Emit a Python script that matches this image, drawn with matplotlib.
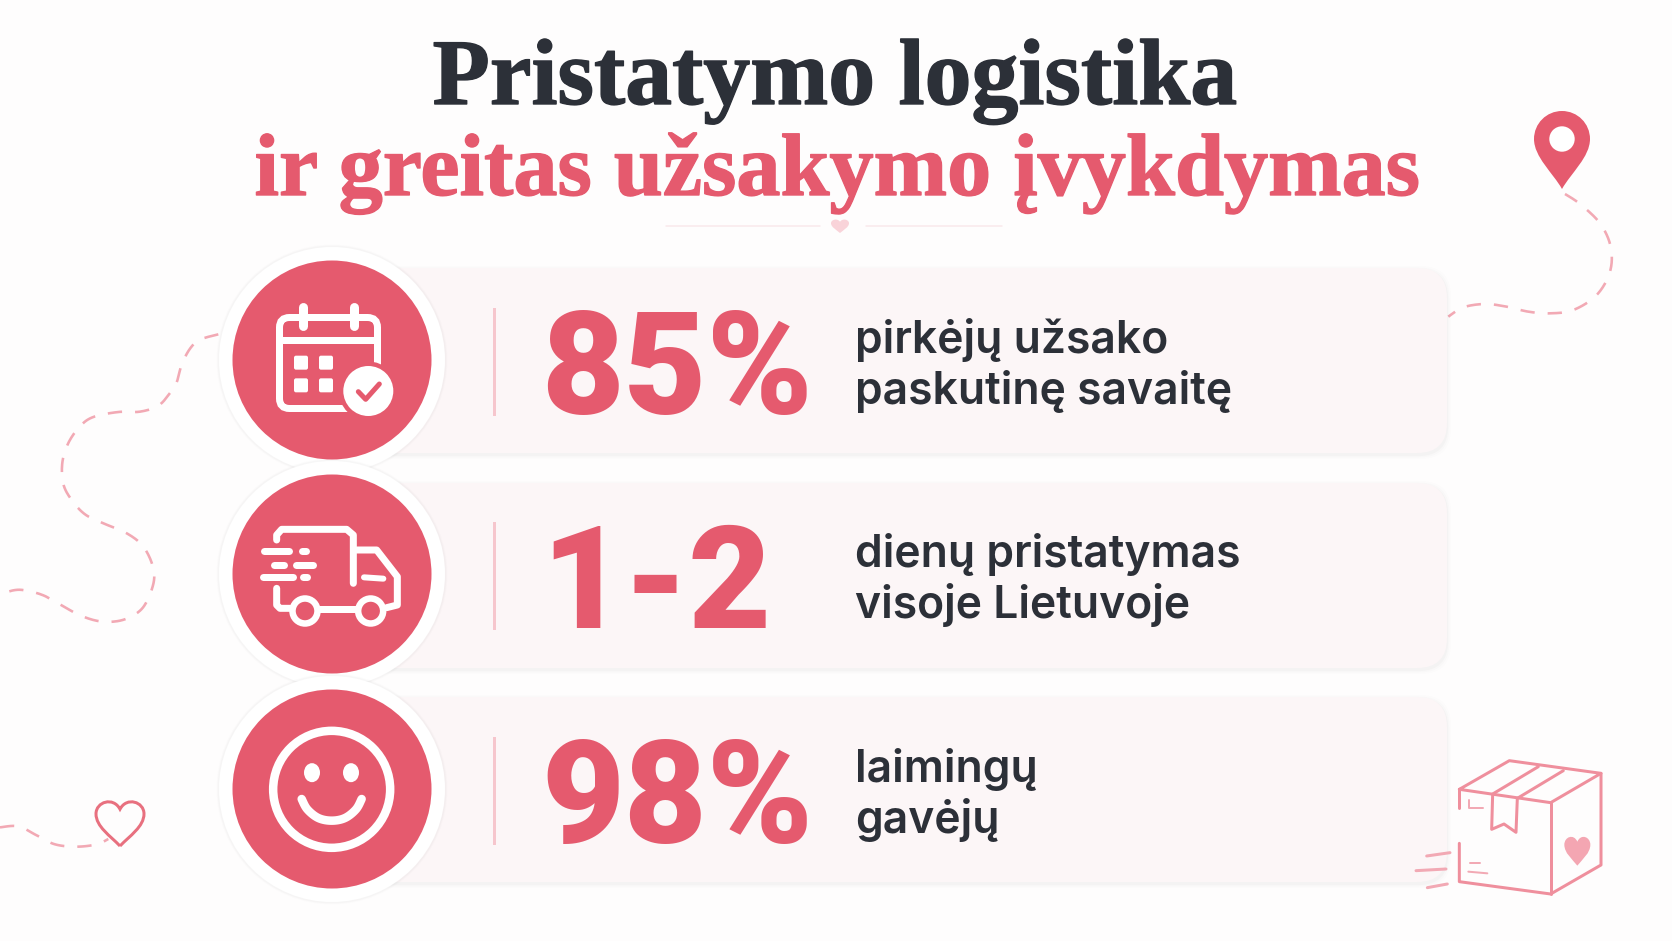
import numpy as np
import matplotlib
matplotlib.use('Agg')
from matplotlib import pyplot as plt
from matplotlib import patheffects as pe
from matplotlib.patches import Circle, Ellipse, FancyBboxPatch, PathPatch, Rectangle
from matplotlib.path import Path

W, H = 1672, 941

# chart text
title_top = 'Pristatymo logistika'
title_bottom = 'ir greitas užsakymo įvykdymas'
stats = ['85%', '1-2', '98%']
desc_first = ['pirkėjų užsako', 'dienų pristatymas', 'laimingų']
desc_second = ['paskutinę savaitę', 'visoje Lietuvoje', 'gavėjų']

# row layout, in pixels
row_centres = [360, 574, 789]
card_tops = [268, 483, 697]
card_height = 185

RED = '#e55a6e'
DARK = '#2c3038'
PINK = '#f2a9b4'
CARD = '#fcf6f7'

route_right = [(495, 312), (540, 342), (600, 400), (632, 470), (630, 545), (590, 615), (520, 660),
               (450, 670), (385, 665), (320, 650), (255, 642), (190, 652), (145, 680)]
route_left = [(655, 43), (600, 59), (570, 86), (545, 134), (530, 187), (510, 219), (475, 257),
              (420, 275), (355, 276), (280, 291), (240, 319), (205, 369), (187, 428), (190, 492),
              (215, 540), (255, 583), (310, 610), (375, 637), (425, 674), (455, 728), (462, 781),
              (440, 845), (410, 880), (360, 902), (300, 904), (240, 886), (185, 856), (130, 826),
              (75, 811), (40, 811), (0, 824)]
route_heart = [(0, 1522), (55, 1519), (110, 1546), (165, 1573), (230, 1580), (290, 1573), (325, 1557)]


def zoomed(points, x0, y0):
    # zoom crop coordinates back to image pixels
    return [(x0 + x / 3, y0 + y / 3) for x, y in points]


def lw(px):
    return px * 72 / 100


def smooth(points, n=14):
    # catmull-rom through the traced points
    p = np.array(points, dtype=float)
    p = np.vstack([p[0], p, p[-1]])
    out = []
    for i in range(1, len(p) - 2):
        for t in np.linspace(0, 1, n, endpoint=False):
            out.append(0.5 * (2 * p[i] + (p[i + 1] - p[i - 1]) * t
                              + (2 * p[i - 1] - 5 * p[i] + 4 * p[i + 1] - p[i + 2]) * t ** 2
                              + (3 * p[i] - p[i - 1] - 3 * p[i + 1] + p[i + 2]) * t ** 3))
    out.append(p[-2])
    return np.array(out)


def stroke(ax, points, color='white', width=7, z=6, cap='round', alpha=1):
    xy = np.array(points)
    ax.plot(xy[:, 0], xy[:, 1], color=color, lw=lw(width), solid_capstyle=cap,
            solid_joinstyle='round', zorder=z, alpha=alpha)


def heart_path(cx, cy, w, h):
    top = cy - h * 0.30
    verts = [(cx, cy + h / 2),
             (cx - w * 0.2, cy + h * 0.28), (cx - w / 2, cy + h * 0.08), (cx - w / 2, cy - h * 0.2),
             (cx - w / 2, cy - h * 0.46), (cx - w * 0.14, cy - h * 0.58), (cx, top),
             (cx + w * 0.14, cy - h * 0.58), (cx + w / 2, cy - h * 0.46), (cx + w / 2, cy - h * 0.2),
             (cx + w / 2, cy + h * 0.08), (cx + w * 0.2, cy + h * 0.28), (cx, cy + h / 2)]
    return Path(verts, [Path.MOVETO] + [Path.CURVE4] * 12)


def draw_calendar(ax):
    x0, y0 = 200, 240
    ax.add_patch(FancyBboxPatch((279.5, 317.5), 98, 91, boxstyle='round,pad=0,rounding_size=10',
                                fc='none', ec='white', lw=lw(7), zorder=6))
    stroke(ax, zoomed([(240, 301), (530, 301)], x0, y0), width=7)
    for x in (308, 462):
        stroke(ax, zoomed([(x, 200), (x, 258)], x0, y0), width=9)
    for x in (282, 357):
        for y in (347, 415):
            ax.add_patch(FancyBboxPatch((x0 + x / 3, y0 + y / 3), 14, 14, boxstyle='round,pad=0,rounding_size=2',
                                        fc='white', ec='none', zorder=6))
    ax.add_patch(Circle((368.3, 391), 29.5, fc=RED, ec='none', zorder=6.5))
    ax.add_patch(Circle((368.3, 391), 25, fc='white', ec='none', zorder=7))
    stroke(ax, zoomed([(475, 455), (497, 478), (538, 432)], x0, y0), color=RED, width=5, z=8)


def draw_truck(ax):
    x0, y0 = 200, 240
    stroke(ax, zoomed([(230, 900), (230, 885), (245, 868), (440, 868), (460, 885), (460, 1030)], x0, y0))
    stroke(ax, zoomed([(470, 930), (530, 930), (592, 1010), (592, 1095), (560, 1103)], x0, y0))
    stroke(ax, zoomed([(230, 1045), (230, 1095), (240, 1105), (272, 1105)], x0, y0))
    stroke(ax, zoomed([(358, 1108), (468, 1108)], x0, y0))
    for x in (315, 512):
        cx, cy = x0 + x / 3, y0 + 1113 / 3
        ax.add_patch(Circle((cx, cy), 12.5, fc='none', ec='white', lw=lw(6.5), zorder=6))
    stroke(ax, zoomed([(492, 1012), (550, 1016)], x0, y0), width=6)
    # speed lines
    stroke(ax, zoomed([(192, 933), (268, 933)], x0, y0))
    stroke(ax, zoomed([(306, 933), (318, 933)], x0, y0))
    stroke(ax, zoomed([(222, 975), (252, 975)], x0, y0))
    stroke(ax, zoomed([(288, 975), (338, 975)], x0, y0))
    stroke(ax, zoomed([(190, 1012), (278, 1012)], x0, y0))
    stroke(ax, zoomed([(310, 1012), (322, 1012)], x0, y0))


def draw_smile(ax):
    x0, y0 = 220, 680
    cx, cy = x0 + 335 / 3, y0 + 328 / 3
    ax.add_patch(Circle((cx, cy), 58.5, fc='none', ec='white', lw=lw(8.5), zorder=6))
    for x in (276, 393):
        ax.add_patch(Ellipse((x0 + x / 3, y0 + 278 / 3), 16, 19, fc='white', ec='none', zorder=6))
    mouth = [(245, 357), (262, 388), (295, 414), (335, 422), (375, 414), (408, 388), (425, 357)]
    stroke(ax, smooth(zoomed(mouth, x0, y0)), width=8.5)


def draw_pin(ax):
    cx, cy, tip = 1562, 139, 189
    r = 28
    verts = [(cx, tip), (cx - 9, tip - 16), (cx - r, cy + 18), (cx - r, cy),
             (cx - r, cy - 15.5), (cx - 15.5, cy - r), (cx, cy - r),
             (cx + 15.5, cy - r), (cx + r, cy - 15.5), (cx + r, cy),
             (cx + r, cy + 18), (cx + 9, tip - 16), (cx, tip)]
    ax.add_patch(PathPatch(Path(verts, [Path.MOVETO] + [Path.CURVE4] * 12), fc=RED, ec='none', zorder=4))
    ax.add_patch(Circle((cx, cy), 12.7, fc='white', ec='none', zorder=5))


def draw_box(ax):
    x0, y0 = 1400, 720
    c = '#ef8f9d'
    for seg in ([(178, 208), (328, 122), (603, 160), (452, 248), (178, 208)],
                [(178, 265), (178, 208)],
                [(178, 370), (178, 485), (452, 522), (603, 435), (603, 160)],
                [(452, 248), (452, 522)],
                [(415, 140), (278, 222), (275, 328), (312, 312), (348, 337), (352, 235), (490, 152)]):
        stroke(ax, zoomed(seg, x0, y0), color=c, width=3, z=4)
    for seg in ([(80, 408), (150, 398)], [(48, 452), (138, 447)], [(82, 503), (142, 492)]):
        stroke(ax, zoomed(seg, x0, y0), color=PINK, width=3, z=4)
    for seg in ([(208, 240), (208, 265), (250, 265)], [(210, 430), (240, 430)], [(205, 455), (262, 460)]):
        stroke(ax, zoomed(seg, x0, y0), color=PINK, width=2, z=4)
    ax.add_patch(PathPatch(heart_path(x0 + 532 / 3, y0 + 392 / 3, 26, 30), fc='#f4a6b2', ec='none', zorder=4))


fig = plt.figure(figsize=(W / 100, H / 100), dpi=100, facecolor='#fefdfd')
ax = fig.add_axes([0, 0, 1, 1])
ax.set_xlim(0, W)
ax.set_ylim(H, 0)
ax.axis('off')

# background routes
dash = (0, (5.5, 5))
for pts, off in ((route_right, (1400, 90)), (route_left, (0, 320)), (route_heart, (0, 320))):
    xy = smooth(zoomed(pts, *off))
    ax.plot(xy[:, 0], xy[:, 1], color=PINK, lw=lw(2.6), linestyle=dash, zorder=1)

ax.add_patch(PathPatch(heart_path(120, 823, 48, 46), fc='none', ec='#e8707f', lw=lw(3), zorder=2))
draw_pin(ax)
draw_box(ax)

# title, thickened a little because the original face is heavier
thick = [pe.withStroke(linewidth=1.0, foreground=DARK)]
ax.text(835, 104, title_top, family='Liberation Serif', weight='bold', fontsize=67.5,
        color=DARK, ha='center', va='baseline', path_effects=thick)
thick = [pe.withStroke(linewidth=1.0, foreground=RED)]
ax.text(837.5, 195, title_bottom, family='Liberation Serif', weight='bold', fontsize=63.5,
        color=RED, ha='center', va='baseline', path_effects=thick)

# small ornament under the title
for seg in ([(666, 226), (820, 226)], [(866, 226), (1002, 226)]):
    stroke(ax, seg, color='#f9e9eb', width=1.5, z=2)
ax.add_patch(PathPatch(heart_path(840, 226, 18, 14), fc='#f9d3d9', ec='none', zorder=2))

# rows
for top, centre, stat, line1, line2 in zip(card_tops, row_centres, stats, desc_first, desc_second):
    for k, a in ((4, 0.008), (2.5, 0.012), (1.2, 0.02)):
        ax.add_patch(FancyBboxPatch((340 - k, top + 2 - k), 1107 + 2 * k, card_height + 2 * k,
                                    boxstyle='round,pad=0,rounding_size=30', fc='black', ec='none',
                                    alpha=a, zorder=2))
    ax.add_patch(FancyBboxPatch((340, top), 1107, card_height, boxstyle='round,pad=0,rounding_size=30',
                                fc=CARD, ec='none', zorder=2))
    ax.add_patch(Rectangle((492.5, centre - 52), 3, 108, fc='#f6c6cd', ec='none', zorder=3))
    ax.text(541, centre + 54, stat, family='Roboto', weight=900, fontsize=103,
            color=RED, ha='left', va='baseline', zorder=3)
    ax.text(855, centre - 7, line1, family='Inter', weight=600, fontsize=32,
            color=DARK, ha='left', va='baseline', zorder=3)
    ax.text(855, centre + 44, line2, family='Inter', weight=600, fontsize=32,
            color=DARK, ha='left', va='baseline', zorder=3)

for centre, draw_icon in zip(row_centres, (draw_calendar, draw_truck, draw_smile)):
    for r, a in ((115.5, 0.012), (114.5, 0.02)):
        ax.add_patch(Circle((332, centre), r, fc='black', ec='none', alpha=a, zorder=5))
    ax.add_patch(Circle((332, centre), 113, fc='white', ec='none', zorder=5))
    ax.add_patch(Circle((332, centre), 99.5, fc=RED, ec='none', zorder=5))
    draw_icon(ax)

fig.savefig('out.png', dpi=100, facecolor=fig.get_facecolor())
